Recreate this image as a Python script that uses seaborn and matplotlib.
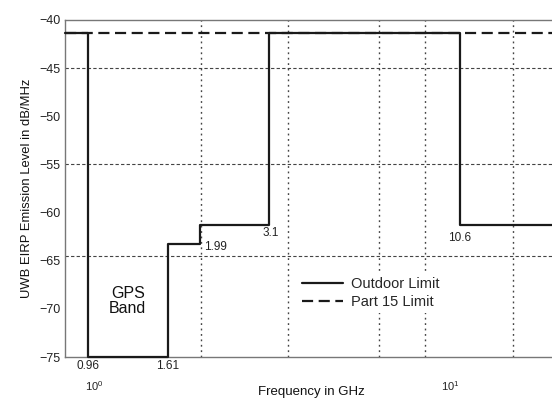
import matplotlib
matplotlib.use('Agg')
import matplotlib.pyplot as plt
import matplotlib.ticker as mticker
import seaborn as sns

# Dados (UWB emission mask)
freq_outdoor = [0.83, 0.96, 1.61, 1.99, 3.1, 10.6, 20]
nivel_outdoor = [-41.3, -75, -63.3, -61.3, -41.3, -61.3, -61.3]
freq_part15 = [0.83, 20]
nivel_part15 = [-41.3, -41.3]

rotulos_freq = ['0.96', '1.61', '1.99', '3.1', '10.6']
y_ticks = [-75, -70, -65, -60, -55, -50, -45, -40]
grade_x = [2, 3.5, 6.3, 8.5, 15]
grade_y = [-45, -55, -64.5]

sns.set_style('white')
plt.rcParams['font.family'] = ['Liberation Sans', 'DejaVu Sans']
plt.rcParams['axes.unicode_minus'] = True

fig = plt.figure(figsize=(5.52, 3.99), dpi=100)
W, H = 552, 399
ax = fig.add_axes([65 / W, 42 / H, 493 / W, 337 / H])

sns.lineplot(x=freq_outdoor, y=nivel_outdoor, drawstyle='steps-post',
             estimator=None, sort=False, color='#1a1a1a', linewidth=1.6,
             label='Outdoor Limit', ax=ax, clip_on=False, zorder=3)
sns.lineplot(x=freq_part15, y=nivel_part15, estimator=None, sort=False,
             color='#1a1a1a', linewidth=1.6, dashes=False, ax=ax, zorder=4)
ax.lines[-1].set_dashes([5, 2.5])
ax.lines[-1].set_label('Part 15 Limit')

ax.set_xscale('log')
ax.set_xlim(freq_part15[0], freq_part15[-1])
ax.set_ylim(-75, -40)
ax.set_yticks(y_ticks)
ax.set_xticks([1, 10])
ax.xaxis.set_major_formatter(mticker.LogFormatterSciNotation())

# grade só em posições escolhidas (ticks menores)
ax.xaxis.remove_overlapping_locs = False
ax.yaxis.remove_overlapping_locs = False
ax.set_xticks(grade_x, minor=True)
ax.xaxis.set_minor_formatter(mticker.NullFormatter())
ax.set_yticks(grade_y, minor=True)
ax.yaxis.set_minor_formatter(mticker.NullFormatter())
ax.xaxis.grid(True, which='minor', color='#444444', linestyle=(0, (1.3, 2.6)), linewidth=1.0)
ax.yaxis.grid(True, which='minor', color='#444444', linestyle=(0, (3, 2)), linewidth=0.8)
ax.xaxis.grid(False, which='major')
ax.yaxis.grid(False, which='major')

ax.tick_params(which='both', length=0)
ax.tick_params(axis='y', labelsize=9, pad=3, colors='#222222')
ax.tick_params(axis='x', labelsize=8, pad=16, colors='#222222')

for lado in ['left', 'bottom', 'top', 'right']:
    ax.spines[lado].set_color('#777777')
    ax.spines[lado].set_linewidth(1.0)

ax.set_xlabel('Frequency in GHz', fontsize=9.5, labelpad=-5, color='#111111')
ax.set_ylabel('UWB EIRP Emission Level in dB/MHz', fontsize=9.4, labelpad=5, color='#111111')

# rótulos das frequências de transição
ax.text(0.96, -75.9, rotulos_freq[0], fontsize=8.5, ha='center', va='center', color='#222222')
ax.text(1.61, -75.9, rotulos_freq[1], fontsize=8.5, ha='center', va='center', color='#222222')
ax.text(2.03, -63.6, rotulos_freq[2], fontsize=8.5, ha='left', va='center', color='#222222')
ax.text(2.97, -62.1, rotulos_freq[3], fontsize=8.5, ha='left', va='center', color='#222222')
ax.text(10.6, -62.6, rotulos_freq[4], fontsize=8.5, ha='center', va='center', color='#222222')

ax.text(1.245, -69.2, 'GPS\nBand', fontsize=11.5, ha='center', va='center',
        linespacing=1.0, color='#111111')

leg = ax.legend(loc='center left', bbox_to_anchor=(0.457, 0.19), frameon=True,
                fontsize=10.5, handlelength=2.8, handletextpad=0.55,
                labelspacing=0.25, borderpad=0.3)
leg.get_frame().set_edgecolor('none')
leg.get_frame().set_facecolor('white')
leg.get_frame().set_alpha(1)

fig.savefig('out.png', dpi=100)
